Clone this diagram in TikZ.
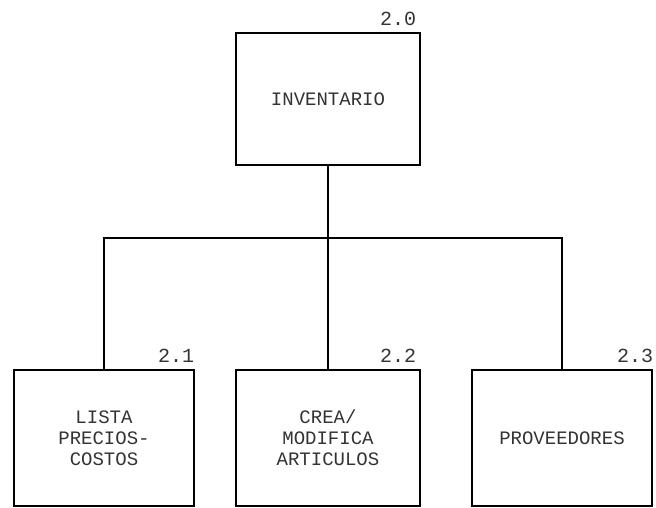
\documentclass[tikz,border=0pt]{standalone}
\usepackage{fontspec}
\setmonofont{Liberation Mono}
\usepackage{tikz}

\tikzset{
  procbox/.style={draw, line width=2.6pt, rectangle, align=center,
    font=\ttfamily\fontsize{19}{21}\selectfont, text=black!80},
  numtext/.style={font=\ttfamily\fontsize{20}{20}\selectfont, text=black!80,
    inner sep=0pt, anchor=base east},
  link/.style={line width=1.1pt}
}

\begin{document}
\begin{tikzpicture}[x=1pt,y=-1pt]
\useasboundingbox (0,0) rectangle (656,507);

\node[procbox, minimum width=184pt, minimum height=132pt] (inv) at (328,99) {INVENTARIO};
\node[procbox, minimum width=180pt, minimum height=136pt] (lista) at (104,438) {LISTA\\PRECIOS-\\COSTOS};
\node[procbox, minimum width=184pt, minimum height=136pt] (crea) at (328,438) {CREA/\\MODIFICA\\ARTICULOS};
\node[procbox, minimum width=180pt, minimum height=136pt] (prov) at (562,438) {PROVEEDORES};

\node[numtext] (n20) at ([xshift=-5pt,yshift=6pt]inv.north east) {2.0};
\node[numtext] (n21) at ([xshift=-1pt,yshift=6pt]lista.north east) {2.1};
\node[numtext] (n22) at ([xshift=-5pt,yshift=6pt]crea.north east) {2.2};
\node[numtext] (n23) at ([xshift=0pt,yshift=6pt]prov.north east) {2.3};

\coordinate (bus) at (328,238);
\draw[link] (inv.south) -- (crea.north);
\draw[link] (lista.north) |- (bus) -| (prov.north);
\end{tikzpicture}
\end{document}
